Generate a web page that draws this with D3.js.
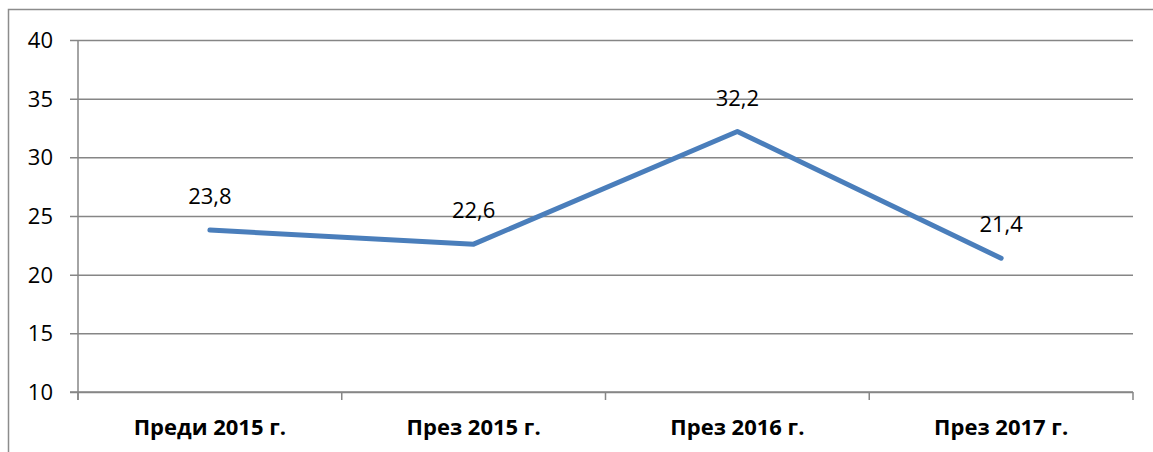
<!DOCTYPE html>
<html>
<head>
<meta charset="utf-8">
<script src="https://cdn.jsdelivr.net/npm/d3@7"></script>
<style>
  body { margin: 0; background: #fff; }
  svg { display: block; font-family: "Open Sans", "Noto Sans", sans-serif; }
</style>
</head>
<body>
<div id="chart"></div>
<script>
// chart data
const categories = ["Преди 2015 г.", "През 2015 г.", "През 2016 г.", "През 2017 г."];
const values = [23.8, 22.6, 32.2, 21.4];
const valueLabels = ["23,8", "22,6", "32,2", "21,4"];
const yTicks = [10, 15, 20, 25, 30, 35, 40];

const width = 1153;
const height = 452;
const plot = {left: 78, right: 1133, top: 40, bottom: 392};

const svg = d3.select("#chart")
  .append("svg")
  .attr("width", width)
  .attr("height", height);

// outer frame (only top and left edges are visible in the picture)
svg.append("path")
  .attr("d", `M8.5,${height + 2}V9.5H${width + 2}`)
  .attr("fill", "none")
  .attr("stroke", "#8c8c8c")
  .attr("stroke-width", 1.5);

const x = d3.scaleBand()
  .domain(categories)
  .range([plot.left, plot.right]);

const y = d3.scaleLinear()
  .domain([10, 40])
  .range([plot.bottom, plot.top]);

// horizontal gridlines + left ticks
svg.append("g")
  .attr("transform", `translate(${plot.left},0)`)
  .call(d3.axisLeft(y)
    .tickValues(yTicks)
    .tickSize(-(plot.right - plot.left))
    .tickFormat(""))
  .call(g => g.select(".domain").remove())
  .call(g => g.selectAll(".tick line")
    .attr("x1", -8)
    .attr("stroke", "#868686")
    .attr("stroke-width", 1.5));

// y tick labels
svg.append("g")
  .selectAll("text")
  .data(yTicks)
  .enter()
  .append("text")
  .attr("x", 53)
  .attr("y", d => y(d) + 8)
  .attr("text-anchor", "end")
  .style("font-size", "22px")
  .attr("fill", "#000")
  .text(d => d);

// y axis line
svg.append("line")
  .attr("x1", plot.left).attr("x2", plot.left)
  .attr("y1", plot.top).attr("y2", plot.bottom + 8)
  .attr("stroke", "#868686")
  .attr("stroke-width", 1.5);

// x axis line with ticks between categories
const xAxis = svg.append("g");
xAxis.append("line")
  .attr("x1", plot.left - 8).attr("x2", plot.right)
  .attr("y1", plot.bottom).attr("y2", plot.bottom)
  .attr("stroke", "#868686")
  .attr("stroke-width", 1.5);
xAxis.selectAll(".xt")
  .data(categories.map(c => x(c) + x.bandwidth()).concat([plot.left]))
  .enter()
  .append("line")
  .attr("x1", d => d).attr("x2", d => d)
  .attr("y1", plot.bottom).attr("y2", plot.bottom + 8)
  .attr("stroke", "#868686")
  .attr("stroke-width", 1.5);

xAxis.selectAll(".xl")
  .data(categories)
  .enter()
  .append("text")
  .attr("x", d => x(d) + x.bandwidth() / 2)
  .attr("y", 435)
  .attr("text-anchor", "middle")
  .attr("font-weight", "bold")
  .style("font-size", "22px")
  .text(d => d);

// the line
const line = d3.line()
  .x((d, i) => x(categories[i]) + x.bandwidth() / 2)
  .y(d => y(d));

svg.append("path")
  .datum(values)
  .attr("d", line)
  .attr("fill", "none")
  .attr("stroke", "#4a7ebb")
  .attr("stroke-width", 5)
  .attr("stroke-linejoin", "round")
  .attr("stroke-linecap", "round");

// value labels
svg.append("g")
  .selectAll("text")
  .data(values)
  .enter()
  .append("text")
  .attr("x", (d, i) => x(categories[i]) + x.bandwidth() / 2)
  .attr("y", d => y(d) - 26)
  .attr("text-anchor", "middle")
  .style("font-size", "22px")
  .text((d, i) => valueLabels[i]);
</script>
</body>
</html>
